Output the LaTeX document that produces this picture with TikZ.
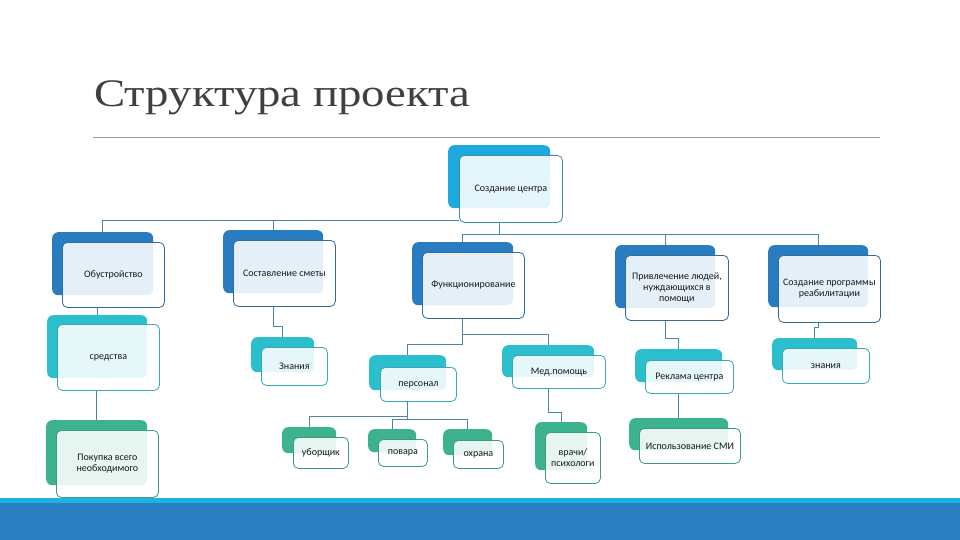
\documentclass[tikz,border=0pt]{standalone}
\usepackage{fontspec}
\setmainfont{Carlito}
\newfontfamily\titlefont{Liberation Serif}
\usetikzlibrary{positioning}

\definecolor{cRoot}{HTML}{1EA9DE}
\definecolor{cBlue}{HTML}{2A7CC1}
\definecolor{cTurq}{HTML}{2BBFCD}
\definecolor{cGreen}{HTML}{3CB38E}
\definecolor{bRoot}{HTML}{3A8DB5}
\definecolor{bBlue}{HTML}{2E6C9E}
\definecolor{bTurq}{HTML}{3AA7B5}
\definecolor{bGreen}{HTML}{3D9C80}
\definecolor{lineblue}{HTML}{4A86AE}
\definecolor{titlegray}{HTML}{404040}
\definecolor{rulegray}{HTML}{9A9A9A}
\definecolor{bandcyan}{HTML}{1EB2E2}
\definecolor{bandblue}{HTML}{2A80C2}

\tikzset{
  backbox/.style={fill=#1, rounded corners=6pt, anchor=north west, inner sep=0pt},
  frontbox/.style={draw=#1, fill=white, fill opacity=0.88, text opacity=1,
    rounded corners=5pt, line width=0.8pt, anchor=north west, inner sep=1pt,
    align=center, text=black!90, font=\fontsize{10}{11}\selectfont},
  conn/.style={draw=lineblue, line width=0.8pt}
}

\begin{document}
\begin{tikzpicture}[x=1pt,y=-1pt]
    \useasboundingbox (0,0) rectangle (960,540);
    \fill[white] (0,0) rectangle (960,540);

    \node[anchor=base west, inner sep=0pt, text=titlegray, xscale=1.2,
      font=\titlefont\fontsize{39}{39}\selectfont] (title) at (94,107) {Структура проекта};
    \draw[rulegray, line width=0.7pt] (93,137) -- (880,137);

    \fill[bandcyan] (0,498) rectangle (960,504);
    \fill[bandblue] (0,503) rectangle (960,540);

    \node[backbox=cRoot, minimum width=102, minimum height=63] (rootb) at (448,145) {};
    \node[frontbox=bRoot, minimum width=103, minimum height=67] (root) at (459,155) {Создание центра};

    \node[backbox=cBlue, minimum width=101, minimum height=63] (obusb) at (52,232) {};
    \node[frontbox=bBlue, minimum width=102, minimum height=65] (obus) at (62,242) {Обустройство};

    \node[backbox=cBlue, minimum width=100, minimum height=63] (smetab) at (223,230) {};
    \node[frontbox=bBlue, minimum width=102, minimum height=66] (smeta) at (233,240) {Составление сметы};

    \node[backbox=cBlue, minimum width=101, minimum height=63] (funcb) at (412,242) {};
    \node[frontbox=bBlue, minimum width=102, minimum height=66] (func) at (422,252) {Функционирование};

    \node[backbox=cBlue, minimum width=100, minimum height=63] (privb) at (615,245) {};
    \node[frontbox=bBlue, minimum width=103, minimum height=65] (priv) at (625,255)
      {Привлечение людей,\\нуждающихся в\\помощи};

    \node[backbox=cBlue, minimum width=100, minimum height=62] (progb) at (768,245) {};
    \node[frontbox=bBlue, minimum width=102, minimum height=67] (prog) at (778,255)
      {Создание программы\\реабилитации};

    \node[backbox=cTurq, minimum width=100, minimum height=63] (sredb) at (47,315) {};
    \node[frontbox=bTurq, minimum width=102, minimum height=66] (sred) at (57,324) {средства};

    \node[backbox=cGreen, minimum width=101, minimum height=65] (pokupb) at (46,420) {};
    \node[frontbox=bGreen, minimum width=102, minimum height=67] (pokup) at (56,430)
      {Покупка всего\\необходимого};

    \node[backbox=cTurq, minimum width=63, minimum height=35] (zn1b) at (251,337) {};
    \node[frontbox=bTurq, minimum width=66, minimum height=38] (zn1) at (261,347) {Знания};

    \node[backbox=cTurq, minimum width=77, minimum height=35] (persb) at (369,355) {};
    \node[frontbox=bTurq, minimum width=76, minimum height=34] (pers) at (380,367) {персонал};

    \node[backbox=cTurq, minimum width=92, minimum height=32] (medb) at (502,345) {};
    \node[frontbox=bTurq, minimum width=93, minimum height=33] (med) at (512,355) {Мед.помощь};

    \node[backbox=cGreen, minimum width=54, minimum height=26] (uborb) at (282,427) {};
    \node[frontbox=bGreen, minimum width=55, minimum height=31] (ubor) at (293,437) {уборщик};

    \node[backbox=cGreen, minimum width=48, minimum height=23] (povarb) at (368,429) {};
    \node[frontbox=bGreen, minimum width=49, minimum height=27] (povar) at (378,439) {повара};

    \node[backbox=cGreen, minimum width=49, minimum height=26] (ohrb) at (443,429) {};
    \node[frontbox=bGreen, minimum width=50, minimum height=28] (ohr) at (453,440) {охрана};

    \node[backbox=cGreen, minimum width=52, minimum height=48] (vrachb) at (535,422) {};
    \node[frontbox=bGreen, minimum width=55, minimum height=51] (vrach) at (545,432) {врачи/\\психологи};

    \node[backbox=cTurq, minimum width=87, minimum height=33] (reklb) at (635,349) {};
    \node[frontbox=bTurq, minimum width=88, minimum height=33] (rekl) at (645,360) {Реклама центра};

    \node[backbox=cGreen, minimum width=99, minimum height=32] (smib) at (629,418) {};
    \node[frontbox=bGreen, minimum width=101, minimum height=35] (smi) at (639,428) {Использование СМИ};

    \node[backbox=cTurq, minimum width=85, minimum height=32] (zn2b) at (772,338) {};
    \node[frontbox=bTurq, minimum width=87, minimum height=35] (zn2) at (782,348) {знания};

    \draw[conn] (root.south west) ++(0,-2) -| (obusb.north);
    \draw[conn] (root.south west) ++(0,-2) -| (smetab.north);
    \draw[conn] (rootb.south |- root.south) -- ++(0,12) -| (funcb.north);
    \draw[conn] (rootb.south |- root.south) -- ++(0,12) -| (privb.north);
    \draw[conn] (rootb.south |- root.south) -- ++(0,12) -| (progb.north);

    \draw[conn] (sredb.north |- obus.south) -- (sredb.north);
    \draw[conn] (pokupb.north |- sred.south) -- (pokupb.north);
    \draw[conn] (smetab.south |- smeta.south) -- ++(0,20) -| (zn1b.north);
    \draw[conn] (funcb.south |- func.south) -- ++(0,26) -| (persb.north);
    \draw[conn] (funcb.south |- func.south) -- ++(0,16) -| (medb.north);
    \draw[conn] (persb.south |- pers.south) -- ++(0,15) -| (uborb.north);
    \draw[conn] (persb.south |- pers.south) -- ++(0,18) -| (povarb.north);
    \draw[conn] (persb.south |- pers.south) -- ++(0,18) -| (ohrb.north);
    \draw[conn] (medb.south |- med.south) -- ++(0,24) -| (vrachb.north);
    \draw[conn] (privb.south |- priv.south) -- ++(0,18) -| (reklb.north);
    \draw[conn] (smib.north |- rekl.south) -- (smib.north);
    \draw[conn] (progb.south |- prog.south) -- ++(0,5) -| (zn2b.north);

\end{tikzpicture}
\end{document}
